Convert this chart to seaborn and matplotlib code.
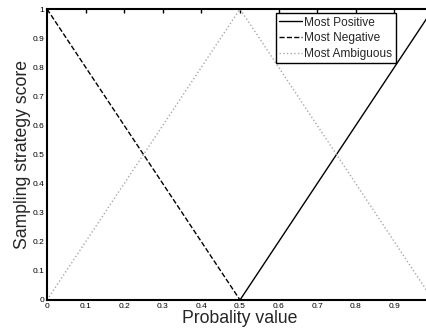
import matplotlib
matplotlib.use("Agg")
import matplotlib.pyplot as plt
import seaborn as sns
import pandas as pd

prob = [0.0, 0.5, 1.0]
most_positive = [0.0, 0.0, 1.0]
most_negative = [1.0, 0.0, 0.0]
most_ambiguous = [0.0, 1.0, 0.0]
series_names = ["Most Positive", "Most Negative", "Most Ambiguous"]
xticks = [0, 0.1, 0.2, 0.3, 0.4, 0.5, 0.6, 0.7, 0.8, 0.9, 1.0]
yticks = [0, 0.1, 0.2, 0.3, 0.4, 0.5, 0.6, 0.7, 0.8, 0.9, 1.0]

sns.set_style("white")
plt.rcParams['font.family'] = ['Liberation Sans', 'DejaVu Sans']

df = pd.DataFrame({
    "x": prob * 3,
    "y": most_positive + most_negative + most_ambiguous,
    "series": [series_names[0]] * 3 + [series_names[1]] * 3 + [series_names[2]] * 3,
})

fig = plt.figure(figsize=(4.27, 3.30), dpi=100)
ax = fig.add_axes([47 / 427, 30 / 330, 386 / 427, 291 / 330])

styles = {"Most Positive": dict(color="black", ls="-", lw=1.0),
          "Most Negative": dict(color="black", ls="--", lw=1.0),
          "Most Ambiguous": dict(color="#a8a8a8", ls=":", lw=1.0)}
for name in series_names:
    sub = df[df["series"] == name]
    sns.lineplot(data=sub, x="x", y="y", ax=ax, label=name, estimator=None,
                 sort=False, clip_on=True, **styles[name])

ax.set_xlim(0, 1)
ax.set_ylim(0, 1)
ax.set_xticks(xticks)
ax.set_yticks(yticks)
ax.set_xticklabels([f"{t:g}" if t < 1 else "" for t in xticks])
ax.set_yticklabels([f"{t:g}" for t in yticks])
ax.tick_params(direction="in", length=3, width=1, labelsize=6, pad=2,
               top=True, right=True, colors="black")
for s in ax.spines.values():
    s.set_visible(True)
    s.set_linewidth(1.5)
    s.set_color("black")
ax.set_xlabel("Probality value", fontsize=12.7, labelpad=0)
ax.set_ylabel("Sampling strategy score", fontsize=12.7, labelpad=1)

leg = ax.legend(loc="upper right", bbox_to_anchor=(396 / 427, 1 - 13 / 330),
                bbox_transform=fig.transFigure, fontsize=8.6, frameon=True,
                fancybox=False, edgecolor="black", framealpha=1,
                handlelength=1.9, handletextpad=0.2, borderpad=0.3,
                labelspacing=0.3, borderaxespad=0)
leg.get_frame().set_linewidth(1.0)

fig.savefig("out.png", dpi=100)
